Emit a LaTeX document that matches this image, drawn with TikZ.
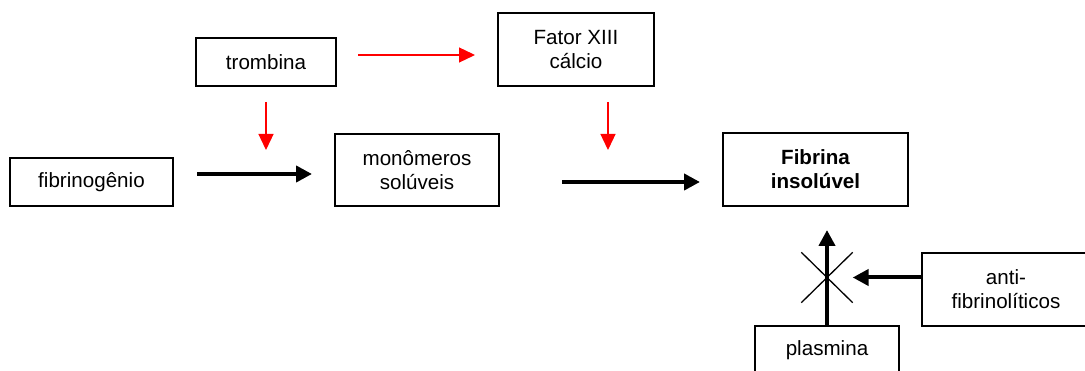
\documentclass[tikz,border=0pt]{standalone}
\usepackage{fontspec}
\setmainfont{Liberation Sans}
\usetikzlibrary{arrows.meta,shapes.misc}
\begin{document}
\begin{tikzpicture}[x=1pt,y=-1pt,
  box/.style={draw,line width=2pt,inner sep=0pt,align=center,
    font=\fontsize{20.6}{24}\selectfont},
  redarrow/.style={draw=red,line width=1.3pt,-{Triangle[length=16pt,width=15pt]}},
  blkarrow/.style={line width=4pt,-{Triangle[length=16pt,width=16pt]}},
  crossbox/.style={cross out,draw,line width=1.3pt,inner sep=0pt,minimum width=50pt,minimum height=49pt}
]
\useasboundingbox (0,0) rectangle (1085,371);
\clip (0,0) rectangle (1085,371);
\fill[white] (0,0) rectangle (1085,371);

\node[box,minimum width=140pt,minimum height=48pt] (trombina) at (266,62) {trombina};
\node[box,minimum width=163pt,minimum height=48pt] (fib) at (91.5,182) {fibrinogênio};
\node[box,minimum width=164pt,minimum height=72pt] (mono) at (417,170) {monômeros\\solúveis};
\node[box,minimum width=156pt,minimum height=73pt] (fator) at (576,49.5) {Fator XIII\\cálcio};
\node[box,minimum width=185pt,minimum height=73pt,font=\fontsize{20.6}{24}\selectfont\bfseries] (fibrina) at (815.5,169.5) {Fibrina\\insolúvel};
\node[box,minimum width=168pt,minimum height=73pt] (anti) at (1006,289.5) {anti-\\fibrinolíticos};
\node[box,minimum width=144pt,minimum height=48pt] (plasmina) at (827,350) {plasmina};
\node[crossbox] (x) at (827,277.5) {};

\coordinate (r1a) at (358,55);
\coordinate (r1b) at (475,55);
\coordinate (r2a) at (266,102);
\coordinate (r2b) at (266,150);
\coordinate (r3a) at (608,102);
\coordinate (r3b) at (608,150);
\coordinate (b1a) at (197,174);
\coordinate (b1b) at (312,174);
\coordinate (b2a) at (562,182);
\coordinate (b2b) at (700,182);
\coordinate (uptip) at (827,230);

\draw[redarrow] (r1a) -- (r1b);
\draw[redarrow] (r2a) -- (r2b);
\draw[redarrow] (r3a) -- (r3b);
\draw[blkarrow] (b1a) -- (b1b);
\draw[blkarrow] (b2a) -- (b2b);
\draw[blkarrow] (plasmina.north) -- (uptip);
\draw[blkarrow] (x.east -| anti.west) -- (x.east);
\end{tikzpicture}
\end{document}
